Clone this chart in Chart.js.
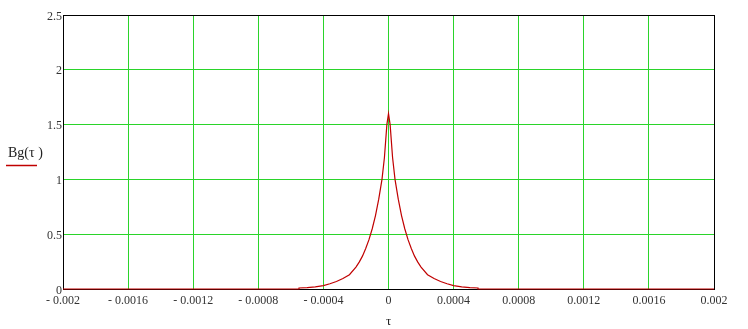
<!DOCTYPE html>
<html>
<head>
<meta charset="utf-8">
<script src="https://cdn.jsdelivr.net/npm/chart.js@4"></script>
<style>
  html, body { margin: 0; padding: 0; background: #ffffff; }
  #wrap { position: relative; width: 748px; height: 329px; }
</style>
</head>
<body>
<div id="wrap"><canvas id="c" width="748" height="329"></canvas></div>
<script>
// ---- data ----
const tauValues = [-0.002, -0.00055, -0.00055, -0.0005, -0.00045, -0.0004, -0.00036, -0.00032, -0.00028, -0.00024, -0.0002, -0.00018, -0.00016, -0.00014, -0.00012, -0.0001, -0.00008, -0.00006, -0.00004, -0.000025, -0.00001, 0,
  0.00001, 0.000025, 0.00004, 0.00006, 0.00008, 0.0001, 0.00012, 0.00014, 0.00016, 0.00018, 0.0002, 0.00024, 0.00028, 0.00032, 0.00036, 0.0004, 0.00045, 0.0005, 0.00055, 0.00055, 0.002];
const bgValues = [0, 0, 0.009, 0.013, 0.02, 0.031, 0.048, 0.068, 0.095, 0.13, 0.2, 0.245, 0.3, 0.37, 0.45, 0.55, 0.67, 0.82, 1.0, 1.2, 1.5, 1.6,
  1.5, 1.2, 1.0, 0.82, 0.67, 0.55, 0.45, 0.37, 0.3, 0.245, 0.2, 0.13, 0.095, 0.068, 0.048, 0.031, 0.02, 0.013, 0.009, 0, 0];
const xTickValues = [-0.002, -0.0016, -0.0012, -0.0008, -0.0004, 0, 0.0004, 0.0008, 0.0012, 0.0016, 0.002];
const xTickLabels = ['- 0.002', '- 0.0016', '- 0.0012', '- 0.0008', '- 0.0004', '0', '0.0004', '0.0008', '0.0012', '0.0016', '0.002'];
const yTickValues = [0, 0.5, 1, 1.5, 2, 2.5];
const yTickLabels = ['0', '0.5', '1', '1.5', '2', '2.5'];
const seriesLabel = 'Bg(τ )';
const xAxisTitle = 'τ';

const points = tauValues.map((t, i) => ({ x: t, y: bgValues[i] }));

const GRID = '#2ad42a';
const FONT = '"Liberation Serif", "DejaVu Serif", serif';

const labelsPlugin = {
  id: 'labelsPlugin',
  afterDraw(chart) {
    const ctx = chart.ctx;
    const area = chart.chartArea;
    ctx.save();
    ctx.fillStyle = '#222';
    ctx.font = '14px ' + FONT;
    ctx.textAlign = 'left';
    ctx.textBaseline = 'middle';
    ctx.fillText(seriesLabel, 8, 153);
    ctx.strokeStyle = '#c00000';
    ctx.lineWidth = 1.5;
    ctx.beginPath();
    ctx.moveTo(6, 165.5);
    ctx.lineTo(37, 165.5);
    ctx.stroke();
    ctx.font = '13px ' + FONT;
    ctx.textAlign = 'center';
    ctx.fillText(xAxisTitle, (area.left + area.right) / 2, 322);
    ctx.restore();
  }
};

new Chart(document.getElementById('c'), {
  type: 'line',
  data: {
    datasets: [{
      label: seriesLabel,
      data: points,
      borderColor: '#c00000',
      borderWidth: 1.2,
      pointRadius: 0,
      tension: 0,
      fill: false,
      clip: false
    }]
  },
  options: {
    responsive: false,
    animation: false,
    layout: { padding: { top: 15, right: 34, left: 0, bottom: 0 } },
    plugins: { legend: { display: false }, tooltip: { enabled: false } },
    scales: {
      x: {
        type: 'linear',
        min: -0.002,
        max: 0.002,
        afterBuildTicks(scale) { scale.ticks = xTickValues.map(v => ({ value: v })); },
        afterFit(scale) { scale.height = 40; },
        ticks: {
          autoSkip: false,
          maxRotation: 0,
          padding: 5,
          color: '#333',
          font: { family: FONT, size: 12 },
          callback: (v, i) => xTickLabels[i]
        },
        grid: {
          drawTicks: false,
          color: ctx => (ctx.index === 0 || ctx.index === xTickValues.length - 1) ? '#000' : GRID,
          lineWidth: 1
        },
        border: { display: true, color: '#000', width: 1 }
      },
      y: {
        type: 'linear',
        min: 0,
        max: 2.5,
        afterBuildTicks(scale) { scale.ticks = yTickValues.map(v => ({ value: v })); },
        afterFit(scale) { scale.width = 63; },
        ticks: {
          autoSkip: false,
          padding: 1,
          labelOffset: 1.5,
          color: '#333',
          font: { family: FONT, size: 12 },
          callback: (v, i) => yTickLabels[i]
        },
        grid: {
          drawTicks: false,
          color: ctx => (ctx.index === 0 || ctx.index === yTickValues.length - 1) ? '#000' : GRID,
          lineWidth: 1
        },
        border: { display: true, color: '#000', width: 1 }
      }
    }
  },
  plugins: [labelsPlugin]
});
</script>
</body>
</html>
